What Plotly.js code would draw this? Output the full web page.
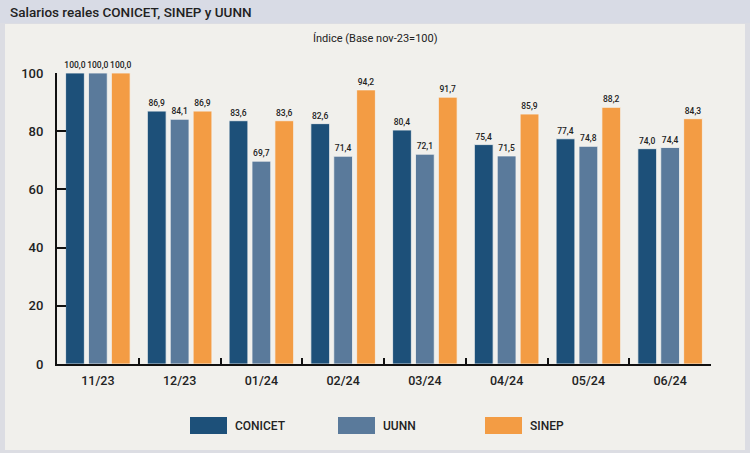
<!DOCTYPE html>
<html>
<head>
<meta charset="utf-8">
<script src="https://cdn.plot.ly/plotly-3.0.1.min.js"></script>
<style>
  body { margin: 0; background: #dcdde3; }
  #graf { width: 750px; height: 453px; }
</style>
</head>
<body>
<div id="graf"></div>
<script>
let months = ['11/23', '12/23', '01/24', '02/24', '03/24', '04/24', '05/24', '06/24'];
let conicet = [100.0, 86.9, 83.6, 82.6, 80.4, 75.4, 77.4, 74.0];
let uunn = [100.0, 84.1, 69.7, 71.4, 72.1, 71.5, 74.8, 74.4];
let sinep = [100.0, 86.9, 83.6, 94.2, 91.7, 85.9, 88.2, 84.3];
let yTicks = [0, 20, 40, 60, 80, 100];

let names = ['CONICET', 'UUNN', 'SINEP'];
let colors = ['#1d5079', '#5a7a9b', '#f39c44'];
let series = [conicet, uunn, sinep];

// plot area in pixels
let W = 750, H = 453;
let mL = 57, mR = 39, mT = 73, mB = 89;
let pw = W - mL - mR, ph = H - mT - mB;
function px(x){ return (x - mL) / pw; }
function py(y){ return (H - mB - y) / ph; }

let graph = series.map((s, i) => ({
    x: months,
    y: s,
    type: 'bar',
    name: names[i],
    marker: {color: colors[i], line: {color: '#f4f4f1', width: 0.8}},
    texttemplate: '%{y:.1f}',
    textposition: 'outside',
    constraintext: 'none',
    cliponaxis: false,
    textfont: {family: 'Roboto', size: 8.5, color: '#222', weight: 500},
    showlegend: false,
    hoverinfo: 'x+y+name'
}));

let shapes = [
    // panel + header band
    {type: 'rect', xref: 'paper', yref: 'paper', layer: 'below',
     x0: px(5), x1: px(745), y0: py(450), y1: py(24),
     fillcolor: '#f1f0ec', line: {width: 0}},
    {type: 'rect', xref: 'paper', yref: 'paper', layer: 'below',
     x0: px(0), x1: px(750), y0: py(23), y1: py(0),
     fillcolor: '#d8dbe5', line: {width: 0}}
];
let annotations = [
    {text: 'Índice (Base nov-23=100)', xref: 'paper', yref: 'paper',
     x: px(375), y: py(39), xanchor: 'center', yanchor: 'middle', showarrow: false,
     font: {family: 'Roboto', size: 11, color: '#222'}}
];

// legend drawn as big swatches
let legX = [190, 338, 485];
names.forEach((n, i) => {
    shapes.push({type: 'rect', xref: 'paper', yref: 'paper',
        x0: px(legX[i]), x1: px(legX[i] + 37), y0: py(434), y1: py(417),
        fillcolor: colors[i], line: {width: 0}});
    annotations.push({text: n, xref: 'paper', yref: 'paper',
        x: px(legX[i] + 43), y: py(425.5), xanchor: 'left', yanchor: 'middle',
        showarrow: false,
        font: {family: 'Roboto', size: 12, color: '#222', weight: 500}});
});

let layout = {
    width: W, height: H,
    margin: {l: mL, r: mR, t: mT, b: mB},
    paper_bgcolor: '#dcdde3',
    plot_bgcolor: 'rgba(0,0,0,0)',
    separators: ',.',
    barmode: 'group',
    bargap: 0.16,
    bargroupgap: 0.18,
    title: {text: 'Salarios reales CONICET, SINEP y UUNN',
        xref: 'container', yref: 'container', x: 10 / W, y: 1 - 12 / H,
        xanchor: 'left', yanchor: 'middle',
        font: {family: 'Roboto', size: 13.5, color: '#222', weight: 500}},
    xaxis: {
        tickson: 'boundaries', ticks: 'inside', ticklen: 6, tickwidth: 2,
        tickcolor: '#111', showline: true, linecolor: '#111', linewidth: 2,
        ticklabelstandoff: 4,
        tickfont: {family: 'Roboto', size: 12.5, color: '#222', weight: 500},
        fixedrange: true
    },
    yaxis: {
        range: [0, 100], tickvals: yTicks, ticks: 'inside', ticklen: 9,
        tickwidth: 2, tickcolor: '#111', showline: true, linecolor: '#111',
        linewidth: 2, showgrid: false, zeroline: false, ticklabelstandoff: 9,
        tickfont: {family: 'Roboto', size: 13, color: '#222', weight: 500},
        fixedrange: true
    },
    shapes: shapes,
    annotations: annotations
};

graf = document.getElementById('graf');
Plotly.newPlot(graf, graph, layout, {displayModeBar: false});
</script>
</body>
</html>
